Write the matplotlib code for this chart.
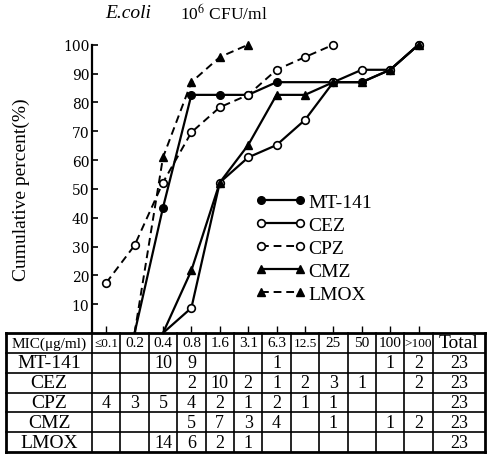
import numpy as np
import matplotlib.pyplot as plt
from matplotlib.lines import Line2D

plt.rcParams['font.family'] = ['Liberation Serif', 'DejaVu Serif']
plt.rcParams['mathtext.fontset'] = 'stix'

W, H = 487, 456

mic_labels = ["≤0.1", "0.2", "0.4", "0.8", "1.6", "3.1", "6.3", "12.5", "25", "50", "100", ">100"]
drugs = ["MT-141", "CEZ", "CPZ", "CMZ", "LMOX"]

# table counts (number of strains per MIC)
mt141_counts = [0, 0, 10, 9, 0, 0, 1, 0, 0, 0, 1, 2]
cez_counts = [0, 0, 0, 2, 10, 2, 1, 2, 3, 1, 0, 2]
cpz_counts = [4, 3, 5, 4, 2, 1, 2, 1, 1, 0, 0, 0]
cmz_counts = [0, 0, 0, 5, 7, 3, 4, 0, 1, 0, 1, 2]
lmox_counts = [0, 0, 14, 6, 2, 1, 0, 0, 0, 0, 0, 0]
totals = [23, 23, 23, 23, 23]

# cumulative percent (nan = not drawn)
nan = np.nan
mt141_pct = [nan, 0, 43.5, 82.6, 82.6, 82.6, 87.0, 87.0, 87.0, 87.0, 91.3, 100]
cez_pct = [nan, nan, 0, 8.7, 52.2, 60.9, 65.2, 73.9, 87.0, 91.3, 91.3, 100]
cpz_pct = [17.4, 30.4, 52.2, 69.6, 78.3, 82.6, 91.3, 95.7, 100, nan, nan, nan]
cmz_pct = [nan, nan, 0, 21.7, 52.2, 65.2, 82.6, 82.6, 87.0, 87.0, 91.3, 100]
lmox_pct = [nan, 0, 60.9, 87.0, 95.7, 100, nan, nan, nan, nan, nan, nan]

fig = plt.figure(figsize=(W / 100, H / 100), dpi=100)

def fx(px):
    return px / W

def fy(py):
    return 1 - py / H

# ---- chart
ax = fig.add_axes([fx(92), fy(334), fx(485) - fx(92), fy(45.7) - fy(334)])
ax.set_xlim(-0.5, 13.34)
ax.set_ylim(0, 100)
x = np.arange(len(mic_labels))

solid = dict(color='black', lw=1.6, clip_on=False)
dashed = dict(color='black', lw=1.4, dashes=(4, 2.5), clip_on=False)

ax.plot(x, mt141_pct, marker='o', ms=5.5, mfc='black', mec='black',
        markevery=[2, 3, 4, 5, 6, 8, 9, 10, 11], **solid)
ax.plot(x, cez_pct, marker='o', ms=5.5, mfc='white', mec='black', mew=1.2,
        markevery=list(range(3, 12)), **solid)
ax.plot(x, cpz_pct, marker='o', ms=5.5, mfc='white', mec='black', mew=1.2, **dashed)
ax.plot(x, cmz_pct, marker='^', ms=6, mfc='black', mec='black',
        markevery=list(range(3, 12)), **solid)
ax.plot(x, lmox_pct, marker='^', ms=6, mfc='black', mec='black',
        markevery=[2, 3, 4, 5], **dashed)

for s in ['top', 'right', 'bottom']:
    ax.spines[s].set_visible(False)
ax.spines['left'].set_linewidth(1.6)
ax.set_yticks(np.arange(10, 101, 10))
ax.set_xticks(x)
ax.set_xticklabels([])
ax.tick_params(axis='y', direction='in', length=4, width=1.2, pad=2, labelsize=12)
ax.tick_params(axis='x', direction='in', length=5, width=1.0)
for t in ax.get_yticklabels():
    t.set_family('DejaVu Serif')
    t.set_fontsize(10)

handles = [
    Line2D([], [], marker='o', ms=5.5, mfc='black', mec='black', color='black', lw=1.6),
    Line2D([], [], marker='o', ms=5.5, mfc='white', mec='black', mew=1.2, color='black', lw=1.6),
    Line2D([], [], marker='o', ms=5.5, mfc='white', mec='black', mew=1.2, color='black', lw=1.4, dashes=(4, 2.5)),
    Line2D([], [], marker='^', ms=6, mfc='black', mec='black', color='black', lw=1.6),
    Line2D([], [], marker='^', ms=6, mfc='black', mec='black', color='black', lw=1.4, dashes=(4, 2.5)),
]
fig.legend(handles, drugs, loc='upper left', bbox_to_anchor=(fx(255), fy(194)),
           frameon=False, numpoints=2, handlelength=2.6, handletextpad=0.15,
           labelspacing=0.28, borderpad=0, borderaxespad=0, fontsize=14)

ax.set_ylabel("Cumulative percent(%)", fontsize=14, labelpad=24)

fig.text(fx(105), fy(14), "E.coli", fontsize=14, style='italic', va='center')
fig.text(fx(180), fy(14), "10$^6$ CFU/ml", fontsize=12.5, va='center')

# ---- table
tb = fig.add_axes([fx(6), fy(453), fx(485) - fx(6), fy(334) - fy(453)])
tb.set_xlim(-3.53, 13.34)
tb.set_ylim(6, 0)
tb.axis('off')
x_left, x_right = -3.53, 13.34
for r in range(7):
    lw = 2.0 if r in (0, 6) else 1.2
    tb.plot([x_left, x_right], [r, r], color='black', lw=lw, clip_on=False)
for k in range(len(mic_labels) + 1):
    xv = -0.5 + k
    tb.plot([xv, xv], [0, 6], color='black', lw=1.2, clip_on=False)
tb.plot([x_left, x_left], [0, 6], color='black', lw=2.0, clip_on=False)
tb.plot([x_right, x_right], [0, 6], color='black', lw=2.0, clip_on=False)

name_x = (x_left - 0.5) / 2
total_x = (len(mic_labels) - 0.5 + x_right) / 2
tb.text(name_x, 0.5, "MIC(μg/ml)", ha='center', va='center', fontsize=11)
for i, lab in enumerate(mic_labels):
    tb.text(i, 0.5, lab, ha='center', va='center',
            fontsize=9.5 if len(lab) > 3 else 11)
tb.text(total_x, 0.5, "Total", ha='center', va='center', fontsize=14)

all_counts = [mt141_counts, cez_counts, cpz_counts, cmz_counts, lmox_counts]
for r, (name, counts, tot) in enumerate(zip(drugs, all_counts, totals)):
    y = r + 1.5
    tb.text(name_x, y, name, ha='center', va='center', fontsize=14)
    for i, c in enumerate(counts):
        if c:
            tb.text(i, y, str(c), ha='center', va='center', fontsize=13)
    tb.text(total_x, y, str(tot), ha='center', va='center', fontsize=13)

fig.savefig("out.png", dpi=100)
